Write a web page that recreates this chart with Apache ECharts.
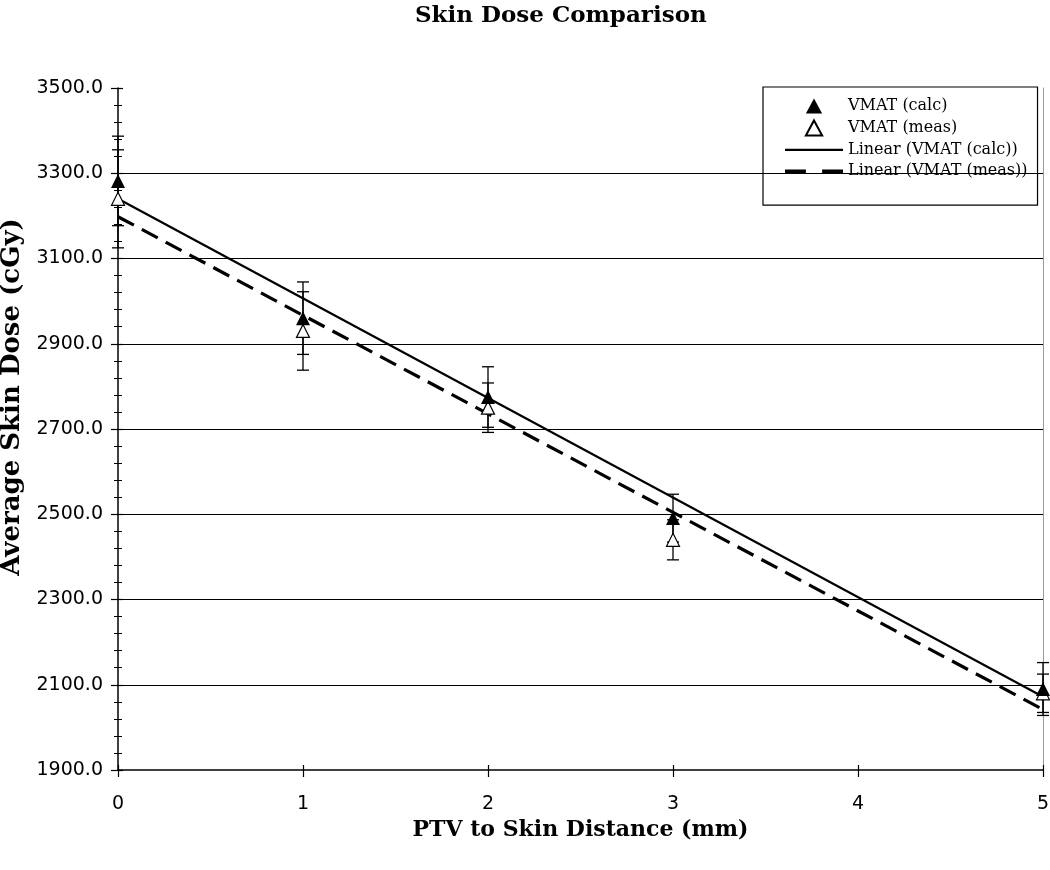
<!DOCTYPE html>
<html>
<head>
<meta charset="utf-8">
<script src="https://cdn.jsdelivr.net/npm/echarts@6/dist/echarts.min.js"></script>
<style>
  html, body { margin: 0; padding: 0; background: #fff; }
  #chart { width: 1050px; height: 870px; }
</style>
</head>
<body>
<div id="chart"></div>
<script>
var distances = [0, 1, 2, 3, 5]
var calcDose = [3282, 2960, 2775, 2491, 2090]
var calcErr = [105, 85, 71, 56, 62]
var measDose = [3240, 2930, 2750, 2440, 2080]
var measErr = [115, 92, 58, 47, 45]
// trendline ends, at x = 0 and x = 5
var trendX = [0, 5]
var trendCalc = [3240, 2072]
var trendMeas = [3198, 2042]
var gridValues = [2100, 2300, 2500, 2700, 2900, 3100, 3300]

var serif = 'DejaVu Serif'
var sans = 'DejaVu Sans'

var pairs = function (xs, ys) {
  return xs.map(function (x, i) { return [x, ys[i]] })
}

var errData = function (vals, errs) {
  return distances.map(function (x, i) {
    return [x, vals[i] - errs[i], vals[i] + errs[i]]
  })
}

var renderErr = function (params, api) {
  var lo = api.coord([api.value(0), api.value(1)])
  var hi = api.coord([api.value(0), api.value(2)])
  var w = 6
  var style = { stroke: '#000', lineWidth: 1.3 }
  return {
    type: 'group',
    children: [
      { type: 'line', shape: { x1: lo[0], y1: lo[1], x2: hi[0], y2: hi[1] }, style: style },
      { type: 'line', shape: { x1: lo[0] - w, y1: lo[1], x2: lo[0] + w, y2: lo[1] }, style: style },
      { type: 'line', shape: { x1: hi[0] - w, y1: hi[1], x2: hi[0] + w, y2: hi[1] }, style: style }
    ]
  }
}

var yBase = { type: 'value', min: 1900, max: 3500, interval: 200 }
var xBase = { type: 'value', min: 0, max: 5, interval: 1 }

// legend icons: a small triangle, a solid stroke and two dashes
var triIcon = 'path://M6.5 0L13 12L0 12Z'

var option = {
  animation: false,
  backgroundColor: '#fff',
  title: {
    text: 'Skin Dose Comparison',
    left: 410,
    top: 0,
    textStyle: { fontFamily: serif, fontWeight: 'bold', fontSize: 23, color: '#000' }
  },
  legend: {
    orient: 'vertical',
    left: 763,
    top: 87,
    padding: [11, 10, 26, 22],
    itemWidth: 58,
    itemHeight: 15,
    itemGap: 5.4,
    itemTextGap: 3,
    symbolKeepAspect: true,
    backgroundColor: '#fff',
    borderColor: '#000',
    borderWidth: 1.2,
    borderRadius: 0,
    data: [
      { name: 'VMAT (calc)', icon: triIcon },
      { name: 'VMAT (meas)', icon: triIcon },
      { name: 'Linear (VMAT (calc))', icon: 'path://M0 0H58V2.2H0Z' },
      { name: 'Linear (VMAT (meas))', icon: 'path://M2 0H20V3H2Z M34 0H52V3H34Z' }
    ],
    textStyle: { fontFamily: serif, fontSize: 16, color: '#000' }
  },
  grid: { left: 118, right: 7, top: 88, bottom: 100, containLabel: false, outerBoundsMode: 'none' },
  xAxis: [
    Object.assign({}, xBase, {
      name: 'PTV to Skin Distance (mm)',
      nameLocation: 'middle',
      nameGap: 46,
      nameTextStyle: { fontFamily: serif, fontWeight: 'bold', fontSize: 22, color: '#000' },
      axisLine: { lineStyle: { color: '#000', width: 1.5 } },
      axisTick: { length: 7, lineStyle: { color: '#000', width: 1.2 } },
      axisLabel: { fontFamily: sans, fontSize: 19, color: '#000', margin: 25 },
      splitLine: { show: false }
    }),
    Object.assign({}, xBase, {
      position: 'bottom',
      axisLine: { show: false },
      axisTick: { inside: true, length: 5, lineStyle: { color: '#000', width: 1.2 } },
      axisLabel: { show: false },
      splitLine: { show: false }
    })
  ],
  yAxis: [
    Object.assign({}, yBase, {
      name: 'Average Skin Dose (cGy)',
      nameLocation: 'middle',
      nameGap: 88,
      nameTextStyle: { fontFamily: serif, fontWeight: 'bold', fontSize: 26, color: '#000', padding: [0, 0, 0, 64] },
      axisLine: { show: true, lineStyle: { color: '#000', width: 1.5 } },
      axisTick: { show: true, length: 7, lineStyle: { color: '#000', width: 1.2 } },
      minorTick: { show: true, splitNumber: 5, length: 4, lineStyle: { color: '#000', width: 1 } },
      axisLabel: {
        fontFamily: sans, fontSize: 19, color: '#000', margin: 15,
        formatter: function (v) { return v.toFixed(1) }
      },
      splitLine: { show: false }
    }),
    Object.assign({}, yBase, {
      position: 'left',
      axisLine: { show: false },
      axisTick: { show: true, inside: true, length: 5, lineStyle: { color: '#000', width: 1.2 } },
      minorTick: { show: true, splitNumber: 5, length: 4, lineStyle: { color: '#000', width: 1 } },
      axisLabel: { show: false },
      splitLine: { show: false }
    }),
    Object.assign({}, yBase, {
      position: 'right',
      axisLine: { show: true, lineStyle: { color: '#999', width: 1 } },
      axisTick: { show: false },
      axisLabel: { show: false },
      splitLine: { show: false }
    })
  ],
  series: [
    {
      name: 'calc err',
      type: 'custom',
      renderItem: renderErr,
      data: errData(calcDose, calcErr),
      encode: { x: 0, y: [1, 2] },
      z: 2,
      silent: true
    },
    {
      name: 'meas err',
      type: 'custom',
      renderItem: renderErr,
      data: errData(measDose, measErr),
      encode: { x: 0, y: [1, 2] },
      z: 2,
      silent: true
    },
    {
      name: 'Linear (VMAT (calc))',
      type: 'line',
      symbol: 'none',
      data: pairs(trendX, trendCalc),
      lineStyle: { color: '#000', width: 2.2, type: 'solid' },
      itemStyle: { color: '#000' },
      z: 3,
      markLine: {
        silent: true,
        symbol: ['none', 'none'],
        label: { show: false },
        lineStyle: { color: '#000', width: 1.2, type: 'solid' },
        data: gridValues.map(function (v) { return { yAxis: v } })
      }
    },
    {
      name: 'Linear (VMAT (meas))',
      type: 'line',
      symbol: 'none',
      data: pairs(trendX, trendMeas),
      lineStyle: { color: '#000', width: 3.2, type: [18, 9] },
      itemStyle: { color: '#000' },
      z: 3
    },
    {
      name: 'VMAT (meas)',
      type: 'scatter',
      symbol: 'triangle',
      symbolSize: 13,
      data: pairs(distances, measDose),
      itemStyle: { color: '#fff', borderColor: '#000', borderWidth: 1.2, opacity: 1 },
      z: 4
    },
    {
      name: 'VMAT (calc)',
      type: 'scatter',
      symbol: 'triangle',
      symbolSize: 14,
      data: pairs(distances, calcDose),
      itemStyle: { color: '#000', opacity: 1 },
      z: 5
    }
  ]
}

var chart = echarts.init(document.getElementById('chart'))
chart.setOption(option)
</script>
</body>
</html>
